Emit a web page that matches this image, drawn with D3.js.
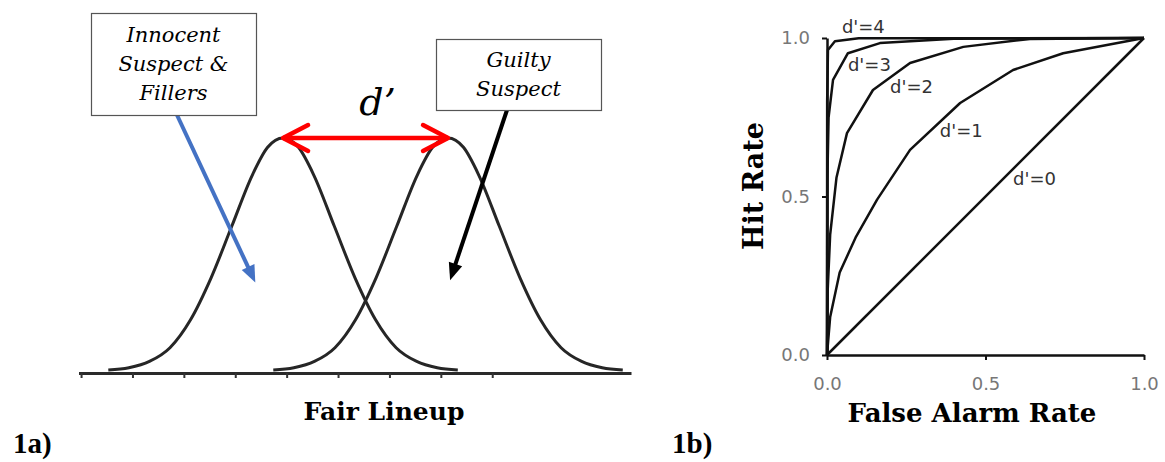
<!DOCTYPE html>
<html>
<head>
<meta charset="utf-8">
<script src="https://cdn.jsdelivr.net/npm/d3@7"></script>
<style>
  body { margin: 0; background: #fff; }
  svg { display: block; }
</style>
</head>
<body>
<script>
// ---- panel 1a: two lineup distributions ----
const lineupTicks = [0, 1, 2, 3, 4, 5, 6, 7, 8]
const lineupMeans = [3.93, 7.14]          // innocent/fillers, guilty suspect
const bellOffsets = [-3.4, -3.0, -2.6, -2.2, -1.8, -1.4, -1.0, -0.6, -0.3, 0, 0.3, 0.6, 1.0, 1.4, 1.8, 2.2, 2.6, 3.0, 3.4]
const bellHeights = [0.004, 0.014, 0.041, 0.10, 0.22, 0.40, 0.62, 0.84, 0.96, 1, 0.96, 0.84, 0.62, 0.40, 0.22, 0.10, 0.041, 0.014, 0.004]
const innocentTip = [3.39, 0.38]
const guiltyTip = [7.18, 0.39]

// ---- panel 1b: ROC curves ----
const rocTicks = [0, 0.5, 1]
const rocNames = ["d'=0", "d'=1", "d'=2", "d'=3", "d'=4"]
const rocFA = [
    [0, 1],
    [0, 0.01, 0.04, 0.09, 0.158, 0.262, 0.42, 0.587, 0.745, 1],
    [0, 0.002, 0.01, 0.03, 0.063, 0.145, 0.262, 0.43, 0.64, 1],
    [0, 0.001, 0.005, 0.019, 0.066, 0.167, 0.4, 1],
    [0, 0.0005, 0.003, 0.025, 0.1, 1]
]
const rocHit = [
    [0, 1],
    [0, 0.12, 0.26, 0.37, 0.49, 0.647, 0.795, 0.899, 0.952, 1],
    [0, 0.2, 0.38, 0.56, 0.70, 0.836, 0.921, 0.972, 0.997, 1],
    [0, 0.55, 0.75, 0.868, 0.952, 0.984, 0.998, 1],
    [0, 0.8, 0.962, 0.99, 0.999, 1]
]
const rocLabelFA = [0.587, 0.356, 0.199, 0.066, 0.047]
const rocLabelHit = [0.536, 0.688, 0.826, 0.896, 1.016]

const width = 1165
const height = 462

const svg = d3
    .select('body')
    .append('svg')
    .attr('width', width)
    .attr('height', height)

const serif = "'DejaVu Serif', Georgia, serif"
const sans = "'DejaVu Sans', Helvetica, Arial, sans-serif"

function arrow(g, x1, y1, x2, y2, color, w, headLen, headW) {
    const a = Math.atan2(y2 - y1, x2 - x1)
    const bx = x2 - headLen * Math.cos(a)
    const by = y2 - headLen * Math.sin(a)
    g.append('line')
        .attr('x1', x1).attr('y1', y1)
        .attr('x2', bx + 2 * Math.cos(a)).attr('y2', by + 2 * Math.sin(a))
        .attr('stroke', color)
        .attr('stroke-width', w)
    g.append('path')
        .attr('d', 'M' + x2 + ',' + y2 +
            'L' + (bx + headW * Math.sin(a)) + ',' + (by - headW * Math.cos(a)) +
            'L' + (bx - headW * Math.sin(a)) + ',' + (by + headW * Math.cos(a)) + 'Z')
        .attr('fill', color)
}

// ================= 1a =================
const x = d3.scaleLinear().domain([-0.05, 10.7]).range([78.5, 631])
const y = d3.scaleLinear().domain([0, 1]).range([371, 138])

const left = svg.append('g')

const xAxis = left
    .append('g')
    .attr('transform', 'translate(0,373)')
    .call(d3.axisBottom(x).tickValues(lineupTicks).tickSize(5).tickSizeOuter(0).tickFormat(''))
xAxis.select('.domain').attr('stroke', '#2a2a2a').attr('stroke-width', 3)
xAxis.selectAll('.tick line').attr('stroke', '#333').attr('stroke-width', 2)

const bell = d3.line().curve(d3.curveMonotoneX)
lineupMeans.forEach(m => {
    const pts = bellOffsets.map((o, i) => [x(m + o), y(bellHeights[i])])
    left.append('path')
        .attr('d', bell(pts))
        .attr('fill', 'none')
        .attr('stroke', '#262626')
        .attr('stroke-width', 3)
})

// red d' arrow between the peaks
const ax1 = x(lineupMeans[0])
const ax2 = x(lineupMeans[1])
const ay = y(1)
left.append('line')
    .attr('x1', ax1).attr('y1', ay).attr('x2', ax2).attr('y2', ay)
    .attr('stroke', '#ff0000').attr('stroke-width', 4.5)
left.append('path')
    .attr('d', `M${ax1 + 25},${ay - 13}L${ax1},${ay}L${ax1 + 25},${ay + 13}M${ax2 - 25},${ay - 13}L${ax2},${ay}L${ax2 - 25},${ay + 13}`)
    .attr('fill', 'none')
    .attr('stroke', '#ff0000')
    .attr('stroke-width', 4.5)
    .attr('stroke-linecap', 'round')
    .attr('stroke-linejoin', 'round')

left.append('text')
    .attr('x', (ax1 + ax2) / 2 + 12)
    .attr('y', 115)
    .attr('text-anchor', 'middle')
    .style('font-family', serif)
    .style('font-style', 'italic')
    .style('font-size', '38px')
    .text('d’')

// pointer arrows
arrow(left, 177, 115, x(innocentTip[0]), y(innocentTip[1]), '#4472c4', 4, 17, 7)
arrow(left, 507, 110, x(guiltyTip[0]), y(guiltyTip[1]), '#000', 4, 17, 7)

// label boxes
const boxes = [
    { x: 91, y: 13, w: 165, h: 102, lines: ['Innocent', 'Suspect &', 'Fillers'], y0: 42 },
    { x: 436, y: 39, w: 165, h: 71, lines: ['Guilty', 'Suspect'], y0: 67 }
]
boxes.forEach(b => {
    left.append('rect')
        .attr('x', b.x + 0.5).attr('y', b.y + 0.5)
        .attr('width', b.w).attr('height', b.h)
        .attr('fill', '#fff')
        .attr('stroke', '#555')
        .attr('stroke-width', 1.2)
    left.append('text')
        .attr('text-anchor', 'middle')
        .style('font-family', serif)
        .style('font-style', 'italic')
        .style('font-size', '21px')
        .selectAll('tspan')
        .data(b.lines)
        .enter()
        .append('tspan')
        .attr('x', b.x + b.w / 2)
        .attr('y', (d, i) => b.y0 + i * 29)
        .text(d => d)
})

left.append('text')
    .attr('x', 384)
    .attr('y', 420)
    .attr('text-anchor', 'middle')
    .style('font-family', serif)
    .style('font-weight', 'bold')
    .style('font-size', '25px')
    .text('Fair Lineup')

// ================= 1b =================
const rx = d3.scaleLinear().domain([0, 1]).range([827, 1144])
const ry = d3.scaleLinear().domain([0, 1]).range([355, 38])

const right = svg.append('g')

const gx = right.append('g')
    .attr('transform', 'translate(0,355)')
    .call(d3.axisBottom(rx).tickValues(rocTicks).tickFormat(d3.format('.1f')).tickSize(5).tickSizeOuter(0).tickPadding(17))
const gy = right.append('g')
    .attr('transform', 'translate(827,0)')
    .call(d3.axisLeft(ry).tickValues(rocTicks).tickFormat(d3.format('.1f')).tickSize(5).tickSizeOuter(0).tickPadding(12))
;[gx, gy].forEach(g => {
    g.select('.domain').attr('stroke', '#111').attr('stroke-width', 2.5)
    g.selectAll('.tick line').attr('stroke', '#111').attr('stroke-width', 2)
    g.selectAll('.tick text')
        .attr('fill', '#777')
        .style('font-family', sans)
        .style('font-size', '18px')
})

const rocLine = d3.line()
rocFA.forEach((fa, k) => {
    right.append('path')
        .attr('d', rocLine(fa.map((f, i) => [rx(f), ry(rocHit[k][i])])))
        .attr('fill', 'none')
        .attr('stroke', '#111')
        .attr('stroke-width', 2.5)
        .attr('stroke-linejoin', 'round')
})

right.selectAll('.roc-label')
    .data(rocNames)
    .enter()
    .append('text')
    .attr('class', 'roc-label')
    .attr('x', (d, i) => rx(rocLabelFA[i]))
    .attr('y', (d, i) => ry(rocLabelHit[i]))
    .attr('fill', '#333')
    .style('font-family', sans)
    .style('font-size', '18px')
    .text(d => d)

right.append('text')
    .attr('x', 972)
    .attr('y', 422)
    .attr('text-anchor', 'middle')
    .style('font-family', serif)
    .style('font-weight', 'bold')
    .style('font-size', '26px')
    .text('False Alarm Rate')

right.append('text')
    .attr('transform', 'translate(763,186) rotate(-90)')
    .attr('text-anchor', 'middle')
    .style('font-family', serif)
    .style('font-weight', 'bold')
    .style('font-size', '27px')
    .text('Hit Rate')

// panel tags
svg.selectAll('.tag')
    .data([['1a)', 13], ['1b)', 672]])
    .enter()
    .append('text')
    .attr('class', 'tag')
    .attr('x', d => d[1])
    .attr('y', 453)
    .style('font-family', "'Liberation Serif', 'Times New Roman', serif")
    .style('font-weight', 'bold')
    .style('font-size', '29px')
    .text(d => d[0])
</script>
</body>
</html>
